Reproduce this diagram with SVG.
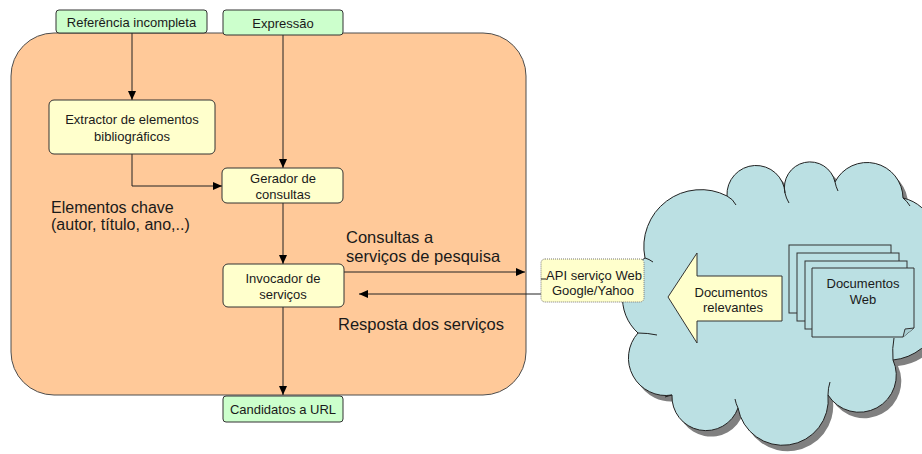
<svg xmlns="http://www.w3.org/2000/svg" width="922" height="454" viewBox="0 0 922 454">
<style>
text { font-family: "Liberation Sans", Arial, sans-serif; fill:#1a1a1a; }
.t13 { font-size:13px; text-anchor:middle; }
.t16 { font-size:16px; }
.t165 { font-size:16.5px; }
.box { stroke:#333; stroke-width:1; }
.green { fill:#ccffcc; }
.yellow { fill:#ffffcc; }
.conn { stroke:#222; stroke-width:1; fill:none; marker-end:url(#arr); }
.stub { stroke:#222; stroke-width:1; fill:none; }
.doc { fill:#bbe0e3; stroke:#333; stroke-width:1; }
</style>
<defs>
<marker id="arr" markerUnits="userSpaceOnUse" markerWidth="9" markerHeight="8" refX="9" refY="4" orient="auto">
<path d="M0,0 L9,4 L0,8 Z" fill="#000"/>
</marker>
<path id="cloudPath" d="M645,258 A57,57 0 0 1 727,196 A29,29 0 0 1 785,193 A25.5,25.5 0 0 1 835,182 A36,36 0 0 1 903,198 A42,42 0 0 1 926,266 A55,55 0 0 1 893,360 A37,37 0 0 1 828,395 A45.5,45.5 0 0 1 738,408 A34,34 0 0 1 672,395 A37.5,37.5 0 0 1 638,333 A47,47 0 0 1 645,258 Z"/>
</defs>

<g id="container">
<rect x="11" y="33" width="515" height="362" rx="43" ry="43" fill="#ffc999" stroke="#4d4d4d" stroke-width="1"/>
</g>

<g id="cloud">
<use href="#cloudPath" transform="translate(5,6)" fill="#808080"/>
<use href="#cloudPath" fill="#bbe0e3" stroke="#222" stroke-width="1"/>
<path class="stub" d="M727,196 Q733,199 736,205"/>
<path class="stub" d="M785,193 Q786,198 789,203"/>
<path class="stub" d="M835,182 Q836,187 838,191"/>
<path class="stub" d="M903,198 Q907,201 910,206"/>
<path class="stub" d="M893,360 Q892,348 894,338"/>
<path class="stub" d="M828,395 Q828,388 830,382"/>
<path class="stub" d="M738,408 Q736,404 735,399"/>
<path class="stub" d="M672,395 Q668,396 665,397"/>
<path class="stub" d="M638,333 Q648,333 657,335"/>
<path class="stub" d="M645,258 Q649,259 653,262"/>
</g>

<g id="connectors">
<line class="conn" x1="132" y1="33" x2="132" y2="100"/>
<line class="conn" x1="283" y1="35" x2="283" y2="168"/>
<path class="conn" d="M132,154 V186 H222"/>
<line class="conn" x1="283" y1="203" x2="283" y2="264"/>
<line class="conn" x1="283" y1="307" x2="283" y2="395"/>
<line class="conn" x1="344" y1="272" x2="525" y2="272"/>
<line class="conn" x1="541" y1="294" x2="359" y2="294"/>
</g>

<g id="ref">
<rect class="box green" x="56" y="10" width="151" height="23" rx="3"/>
<text class="t13" x="131.5" y="26.5">Referência incompleta</text>
</g>

<g id="expressao">
<rect class="box green" x="223" y="10" width="120" height="25" rx="3"/>
<text class="t13" x="283" y="28">Expressão</text>
</g>

<g id="extractor">
<rect class="box yellow" x="49" y="100" width="166" height="54" rx="5"/>
<text class="t13" x="132" y="124">Extractor de elementos</text>
<text class="t13" x="132" y="140.5">bibliográficos</text>
</g>

<g id="gerador">
<rect class="box yellow" x="222" y="168" width="121" height="35" rx="5"/>
<text class="t13" x="283" y="183">Gerador de</text>
<text class="t13" x="283" y="199">consultas</text>
</g>

<g id="invocador">
<rect class="box yellow" x="223" y="264" width="121" height="43" rx="5"/>
<text class="t13" x="283" y="283">Invocador de</text>
<text class="t13" x="283" y="298.5">serviços</text>
</g>

<g id="candidatos">
<rect class="box green" x="223" y="396" width="120" height="26" rx="3"/>
<text class="t13" x="283" y="414">Candidatos a URL</text>
</g>

<g id="labels">
<text class="t16" x="51" y="213">Elementos chave</text>
<text class="t16" x="51" y="230">(autor, título, ano,..)</text>
<text class="t165" x="346" y="243">Consultas a</text>
<text class="t165" x="346" y="262">serviços de pesquisa</text>
<text class="t165" x="338" y="330">Resposta dos serviços</text>
</g>

<g id="api">
<rect x="541" y="259" width="103" height="43" rx="4" fill="#ffffcc" stroke="#777" stroke-width="1" stroke-dasharray="1,1"/>
<line x1="541" y1="279" x2="546" y2="279" stroke="#222" stroke-width="1"/>
<text class="t13" x="594" y="280">API serviço Web</text>
<text class="t13" x="593" y="295">Google/Yahoo</text>
</g>

<g id="relevantes">
<path d="M668,297 L697,253 V276 H782 V321 H697 V343 Z" fill="#ffffcc" stroke="#333" stroke-width="1"/>
<text class="t13" x="731" y="297">Documentos</text>
<text class="t13" x="733" y="312">relevantes</text>
</g>

<g id="docsweb">
<rect class="doc" x="789" y="245" width="102" height="68"/>
<rect class="doc" x="797" y="253" width="102" height="68"/>
<rect class="doc" x="805" y="261" width="102" height="68"/>
<path class="doc" d="M812,268 H914 V328 L903,337 H812 Z"/>
<path d="M903,337 L905,329 L914,328" fill="#a9cfd3" stroke="#333" stroke-width="1"/>
<text class="t13" x="863" y="288">Documentos</text>
<text class="t13" x="863" y="304">Web</text>
</g>
</svg>
